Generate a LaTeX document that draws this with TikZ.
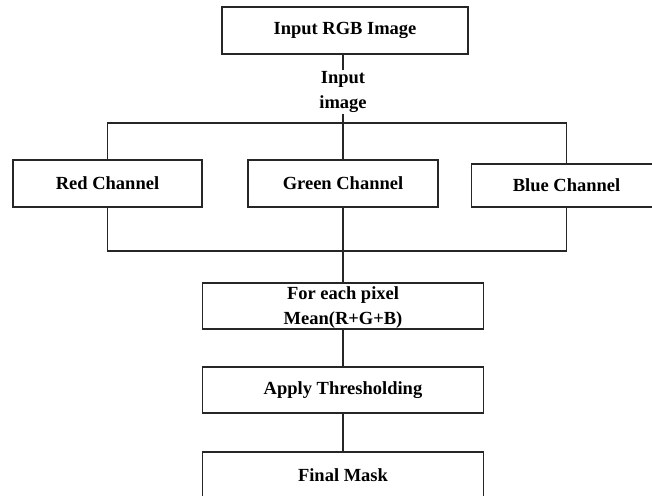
\documentclass[tikz,border=0pt]{standalone}
\usepackage{fontspec}
\setmainfont{Liberation Serif}
\begin{document}
\begin{tikzpicture}[x=1pt,y=-1pt,
  box/.style={draw=black!85, line width=1.3pt, rectangle, inner sep=0pt, align=center,
    font=\fontsize{18.5}{25}\selectfont\bfseries},
  txt/.style={inner sep=0pt, align=center, font=\fontsize{18.5}{25}\selectfont\bfseries},
  conn/.style={draw=black!85, line width=1.3pt}]
\useasboundingbox (0,0) rectangle (652,495);
\clip (0,0) rectangle (652,495);
\node[box, minimum width=246pt, minimum height=47pt] (top) at (345,30.5) {Input RGB Image};
\node[txt, inner sep=1pt] (lbl) at (343,92) {Input\\image};
\coordinate (j1) at (343,123);
\coordinate (j2) at (343,251);
\node[box, minimum width=189pt, minimum height=47pt] (red) at (107.5,183.5) {Red Channel};
\node[box, minimum width=190pt, minimum height=47pt] (green) at (343,183.5) {Green Channel};
\node[box, minimum width=190pt, minimum height=43pt] (blue) at (566.5,185.5) {Blue Channel};
\node[box, minimum width=281pt, minimum height=46pt] (mean) at (343,306) {};
\node[txt] (meantxt) at (343,308) {For each pixel\\Mean(R+G+B)};
\node[box, minimum width=281pt, minimum height=46pt] (apply) at (343,390) {Apply Thresholding};
\node[box, minimum width=281pt, minimum height=46pt] (final) at (343,475) {Final Mask};
\draw[conn] (lbl.north |- top.south) -- (lbl.north);
\draw[conn] (lbl.south) -- (lbl.south |- j1);
\draw[conn] (red.north) |- (j1) -| (blue.north);
\draw[conn] (green.north) -- (j1);
\draw[conn] (red.south) |- (j2) -| (blue.south);
\draw[conn] (green.south) -- (mean.north);
\draw[conn] (mean.south) -- (apply.north);
\draw[conn] (apply.south) -- (final.north);
\end{tikzpicture}
\end{document}
